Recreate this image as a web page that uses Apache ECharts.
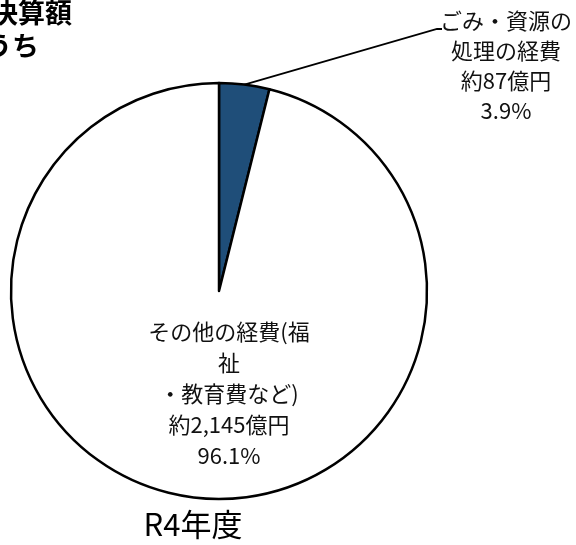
<!DOCTYPE html>
<html><head><meta charset="utf-8">
<script src="https://cdn.jsdelivr.net/npm/echarts@6/dist/echarts.min.js"></script>
<style>html,body{margin:0;padding:0;background:#fff}#c{width:576px;height:545px}</style>
</head><body><div id="c"></div>
<script>
const categories = ['ごみ・資源の処理の経費', 'その他の経費(福祉・教育費など)'];
const nameLines = ['ごみ・資源の\n処理の経費', 'その他の経費(福\n祉\n・教育費など)'];
const amounts = [87, 2145]; // 億円
const percents = ['3.9%', '96.1%'];
const sliceColors = ['#1f4e79', '#ffffff'];
const titleLines = ['決算額', 'うち'];
const yearLabel = 'R4年度';

const FF = '"Noto Sans CJK JP", "Noto Sans", sans-serif';
const labelText = i => nameLines[i] + '\n約' + amounts[i].toLocaleString('en-US') + '億円\n' + percents[i];

const chart = echarts.init(document.getElementById('c'), null, {renderer: 'canvas'});
chart.setOption({
  animation: false,
  backgroundColor: '#fff',
  graphic: [
    {type: 'text', x: -9, y: 13, style: {text: titleLines[0], font: 'bold 27px ' + FF, fill: '#000', align: 'left', verticalAlign: 'middle'}},
    {type: 'text', x: -15, y: 46, style: {text: titleLines[1], font: 'bold 27px ' + FF, fill: '#000', align: 'left', verticalAlign: 'middle'}},
    {type: 'text', x: 193, y: 524, style: {text: yearLabel, font: '31px ' + FF, fill: '#000', align: 'center', verticalAlign: 'middle'}}
  ],
  series: [
    {
      type: 'pie', center: [219, 291], radius: 208, startAngle: 90, clockwise: true,
      silent: true, avoidLabelOverlap: false,
      itemStyle: {borderColor: '#000', borderWidth: 2.5},
      label: {color: '#111', fontFamily: FF, fontSize: 22, lineHeight: 30, formatter: p => labelText(p.dataIndex)},
      labelLine: {show: false},
      labelLayout: p => p.dataIndex === 0
        ? {x: 506, y: 66, align: 'center', verticalAlign: 'middle'}
        : {x: 229, y: 394, align: 'center', verticalAlign: 'middle'},
      data: categories.map((c, i) => ({
        name: c, value: amounts[i], itemStyle: {color: sliceColors[i]},
        label: {position: i === 0 ? 'outside' : 'inside', lineHeight: i === 0 ? 30 : 31}
      }))
    },
    {
      type: 'pie', center: [219, 291], radius: 208, startAngle: 90, clockwise: true,
      silent: true, avoidLabelOverlap: false, z: 3,
      itemStyle: {color: 'transparent', borderWidth: 0},
      label: {show: false},
      labelLine: {show: false},
      labelLayout: p => p.dataIndex === 0 ? {x: 442, y: 29, align: 'left', verticalAlign: 'middle'} : {},
      data: categories.map((c, i) => ({
        name: c, value: amounts[i],
        label: i === 0 ? {show: true, position: 'outside', formatter: ' ', color: 'transparent', fontSize: 4} : {show: false},
        labelLine: i === 0 ? {show: true, length: 10, length2: 5, lineStyle: {color: '#000', width: 1.8}} : {show: false}
      }))
    }
  ]
});
</script></body></html>
